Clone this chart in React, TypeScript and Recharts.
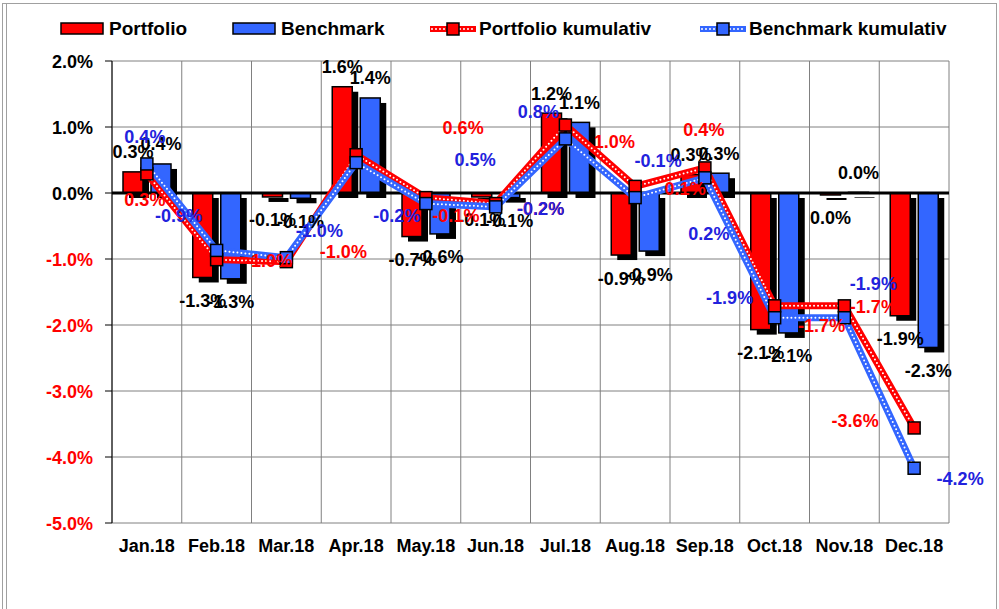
import {
  ComposedChart, Bar, Line, XAxis, YAxis, CartesianGrid, ReferenceLine, LabelList,
} from 'recharts';

const MONTHS = ['Jan.18', 'Feb.18', 'Mar.18', 'Apr.18', 'May.18', 'Jun.18', 'Jul.18', 'Aug.18', 'Sep.18', 'Oct.18', 'Nov.18', 'Dec.18'];
const PORTFOLIO = [0.32, -1.28, -0.06, 1.61, -0.66, -0.06, 1.21, -0.94, 0.28, -2.07, -0.03, -1.86];
const BENCHMARK = [0.44, -1.30, -0.08, 1.44, -0.62, -0.07, 1.07, -0.88, 0.30, -2.12, 0.01, -2.34];
const PORTFOLIO_CUM = [0.29, -1.01, -1.04, 0.58, -0.07, -0.16, 1.03, 0.10, 0.38, -1.71, -1.71, -3.56];
const BENCHMARK_CUM = [0.44, -0.87, -0.98, 0.46, -0.16, -0.21, 0.82, -0.07, 0.23, -1.89, -1.89, -4.17];
const Y_TICKS = [-5, -4, -3, -2, -1, 0, 1, 2];

// label placement as in the original (labels were dragged around by hand)
const RED_LABEL_OFFSETS = [[-2, 26], [52, 1], [57, -10], [107, -27], [30, 18], [45, 5], [49, 16], [50, 2], [-1, -38], [47, 20], [29, 1], [-59, -7]];
const BLUE_LABEL_OFFSETS = [[-2, -27], [-38, -35], [33, -27], [119, -3], [-29, 12], [45, 2], [-27, -27], [23, -37], [4, 56], [-45, -20], [29, -34], [46, 10]];

const RED = '#FF0000';
const BLUE = '#3366FF';
const FONT = 'Arial, "Liberation Sans", Helvetica, sans-serif';

const data = MONTHS.map((m, i) => ({
  month: m,
  portfolio: PORTFOLIO[i],
  benchmark: BENCHMARK[i],
  pCum: PORTFOLIO_CUM[i],
  bCum: BENCHMARK_CUM[i],
}));

function fmt(v: number) {
  const r = Math.round(v * 10) / 10;
  return (r === 0 ? 0 : r).toFixed(1) + '%';
}

function ShadowBar(props: any) {
  const { x, y, width, height, fill } = props;
  const top = Math.min(y, y + height);
  const h = Math.abs(height);
  if (!width) return null;
  return (
    <g>
      <rect x={x + 6} y={top + 5} width={width} height={h} fill="#000" />
      <rect x={x} y={top} width={width} height={h} fill={fill} stroke="#000" strokeWidth={1.5} />
    </g>
  );
}

function BarLabel(props: any) {
  const { x, y, width, height, value } = props;
  const top = Math.min(y, y + height);
  const bottom = Math.max(y, y + height);
  const cy = value >= 0 ? top - 20 : bottom + 23;
  return (
    <text x={x + width / 2} y={cy + 6.5} textAnchor="middle" fontSize={18} fontWeight="bold" fontFamily={FONT} fill="#000">
      {fmt(value)}
    </text>
  );
}

function makeCumLabel(color: string, offsets: number[][]) {
  return (props: any) => {
    const { x, y, value, index } = props;
    const off = offsets[index] || [0, -20];
    return (
      <text x={x + off[0]} y={y + off[1] + 6.5} textAnchor="middle" fontSize={18} fontWeight="bold" fontFamily={FONT} fill={color}>
        {fmt(value)}
      </text>
    );
  };
}

function makeSquareDot(color: string) {
  return (props: any) => {
    const { cx, cy, index } = props;
    return <rect key={'d' + index} x={cx - 6} y={cy - 6} width={12} height={12} fill={color} stroke="#000" strokeWidth={1.5} />;
  };
}

function YTick(props: any) {
  const { x, y, payload } = props;
  return (
    <text x={x} y={y + 6.5} textAnchor="end" fontSize={18} fontWeight="bold" fontFamily={FONT} fill={payload.value < 0 ? RED : '#000'}>
      {payload.value.toFixed(1)}%
    </text>
  );
}

function XTick(props: any) {
  const { x, y, payload } = props;
  return (
    <text x={x} y={y + 29} textAnchor="middle" fontSize={18} fontWeight="bold" fontFamily={FONT} fill="#000">
      {payload.value}
    </text>
  );
}

function LegendLineIcon({ x, color }: { x: number; color: string }) {
  return (
    <g>
      <line x1={x} y1={29} x2={x + 46} y2={29} stroke={color} strokeWidth={6} />
      <line x1={x + 2} y1={29} x2={x + 44} y2={29} stroke="#fff" strokeWidth={2} strokeDasharray="0 4" strokeLinecap="round" />
      <rect x={x + 17} y={23} width={12} height={12} fill={color} stroke="#000" strokeWidth={1.5} />
    </g>
  );
}

function TopLegend() {
  const txt = { fontSize: 19, fontWeight: 'bold' as const, fontFamily: FONT, fill: '#000' };
  return (
    <svg width={999} height={50} style={{ position: 'absolute', left: 0, top: 0 }}>
      <rect x={61} y={23} width={42} height={11} fill={RED} stroke="#000" strokeWidth={1.5} />
      <text x={109} y={35} {...txt}>Portfolio</text>
      <rect x={233} y={23} width={42} height={11} fill={BLUE} stroke="#000" strokeWidth={1.5} />
      <text x={281} y={35} {...txt}>Benchmark</text>
      <LegendLineIcon x={430} color={RED} />
      <text x={479} y={35} {...txt}>Portfolio kumulativ</text>
      <LegendLineIcon x={700} color={BLUE} />
      <text x={749} y={35} {...txt}>Benchmark kumulativ</text>
    </svg>
  );
}

export default function App() {
  return (
    <div style={{ position: 'absolute', left: 0, top: 0, width: 999, height: 609, background: '#fff', overflow: 'hidden', fontFamily: FONT }}>
      <div style={{ position: 'absolute', left: 2, top: 3, width: 993, height: 640, border: '1px solid #a0a0a0' }} />
      <div style={{ position: 'absolute', left: 6, top: 4, width: 0, height: 640, borderLeft: '1px solid #a0a0a0' }} />
      <ComposedChart
        width={999}
        height={609}
        data={data}
        margin={{ top: 61, right: 50, bottom: 46, left: 0 }}
        barSize={20}
        barGap={8}
        style={{ position: 'absolute', left: 0, top: 0 }}
      >
        <CartesianGrid
          stroke="#808080"
          strokeWidth={1}
          verticalCoordinatesGenerator={({ offset }: any) =>
            MONTHS.map((_, i) => offset.left + (i * offset.width) / MONTHS.length).concat(offset.left + offset.width)
          }
        />
        <XAxis dataKey="month" height={40} tickLine={false} axisLine={false} tickSize={0} tickMargin={0} tick={<XTick />} interval={0} />
        <YAxis
          width={112}
          domain={[-5, 2]}
          ticks={Y_TICKS}
          allowDataOverflow
          axisLine={{ stroke: '#000', strokeWidth: 1 }}
          tickLine={{ stroke: '#000' }}
          tickSize={7}
          tickMargin={12}
          tick={<YTick />}
        />
        <Bar dataKey="portfolio" name="Portfolio" fill={RED} shape={<ShadowBar />} isAnimationActive={false}>
          <LabelList dataKey="portfolio" content={<BarLabel />} />
        </Bar>
        <Bar dataKey="benchmark" name="Benchmark" fill={BLUE} shape={<ShadowBar />} isAnimationActive={false}>
          <LabelList dataKey="benchmark" content={<BarLabel />} />
        </Bar>
        <ReferenceLine y={0} stroke="#000" strokeWidth={3} />
        <Line dataKey="pCum" stroke={RED} strokeWidth={7} dot={false} activeDot={false} isAnimationActive={false} legendType="none" />
        <Line
          dataKey="pCum"
          name="Portfolio kumulativ"
          stroke="#fff"
          strokeWidth={2}
          strokeDasharray="0 4"
          strokeLinecap="round"
          dot={makeSquareDot(RED)}
          activeDot={false}
          isAnimationActive={false}
        >
          <LabelList dataKey="pCum" content={makeCumLabel(RED, RED_LABEL_OFFSETS)} />
        </Line>
        <Line dataKey="bCum" stroke={BLUE} strokeWidth={7} dot={false} activeDot={false} isAnimationActive={false} legendType="none" />
        <Line
          dataKey="bCum"
          name="Benchmark kumulativ"
          stroke="#fff"
          strokeWidth={2}
          strokeDasharray="0 4"
          strokeLinecap="round"
          dot={makeSquareDot(BLUE)}
          activeDot={false}
          isAnimationActive={false}
        >
          <LabelList dataKey="bCum" content={makeCumLabel('#2222DD', BLUE_LABEL_OFFSETS)} />
        </Line>
      </ComposedChart>
      <TopLegend />
    </div>
  );
}
